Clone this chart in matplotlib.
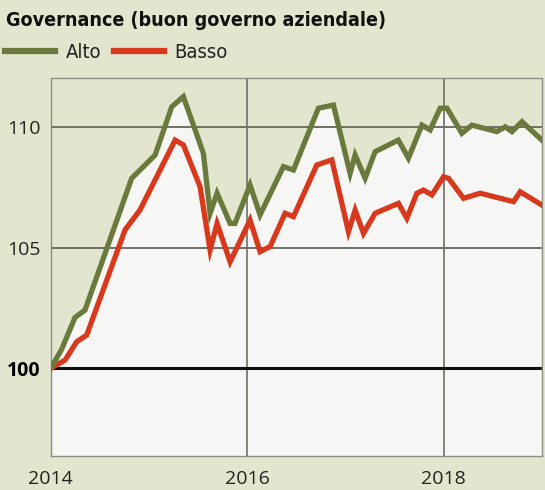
import matplotlib
matplotlib.use("Agg")
import matplotlib.pyplot as plt
from matplotlib.lines import Line2D
from matplotlib import font_manager as fm

# ---- data ----
alto_x = [2014.000, 2014.112, 2014.248, 2014.349, 2014.825, 2014.994, 2015.063, 2015.233,
          2015.351, 2015.555, 2015.623, 2015.694, 2015.827, 2015.877, 2016.030, 2016.132,
          2016.370, 2016.472, 2016.726, 2016.879, 2017.049, 2017.100, 2017.202, 2017.304,
          2017.540, 2017.643, 2017.780, 2017.864, 2017.966, 2018.035, 2018.187, 2018.289,
          2018.544, 2018.628, 2018.697, 2018.799, 2019.002]
alto_y = [100.0, 100.79, 102.11, 102.41, 107.87, 108.55, 108.83, 110.83,
          111.25, 108.90, 106.42, 107.25, 106.00, 106.00, 107.59, 106.35,
          108.35, 108.21, 110.77, 110.90, 108.07, 108.83, 107.87, 108.97,
          109.45, 108.70, 110.07, 109.87, 110.77, 110.77, 109.73, 110.07,
          109.80, 110.00, 109.80, 110.21, 109.45]

basso_x = [2014.000, 2014.146, 2014.265, 2014.367, 2014.757, 2014.910, 2015.267, 2015.351,
           2015.521, 2015.623, 2015.694, 2015.827, 2016.030, 2016.132, 2016.234, 2016.387,
           2016.472, 2016.710, 2016.863, 2017.032, 2017.100, 2017.185, 2017.304, 2017.541,
           2017.627, 2017.729, 2017.796, 2017.882, 2018.000, 2018.051, 2018.204, 2018.374,
           2018.713, 2018.781, 2019.002]
basso_y = [100.0, 100.34, 101.10, 101.38, 105.73, 106.56, 109.45, 109.25,
           107.52, 104.90, 106.00, 104.41, 106.14, 104.83, 105.04, 106.42,
           106.28, 108.42, 108.63, 105.66, 106.55, 105.59, 106.42, 106.83,
           106.21, 107.25, 107.38, 107.18, 107.93, 107.87, 107.04, 107.25,
           106.90, 107.31, 106.76]

x_ticks = [2014, 2016, 2018]
x_labels = ["2014", "2016", "2018"]
y_ticks = [100, 105, 110]
y_labels = ["100", "105", "110"]

title = "Governance (buon governo aziendale)"
series_names = ["Alto", "Basso"]

# ---- fonts: prefer a condensed face if one is installed ----
def pick_font(bold, size):
    want_w = 700 if bold else 400
    best = None
    for f in fm.fontManager.ttflist:
        st = f.stretch
        name = f.name.lower()
        cond = (("condensed" in str(st)) or ("narrow" in name) or ("condensed" in name)
                or (isinstance(st, int) and st < 500))
        if not cond:
            continue
        if "mono" in name or "serif" in name.replace("sans", "") or f.style != "normal":
            continue
        w = f.weight if isinstance(f.weight, int) else (700 if "bold" in str(f.weight) else 400)
        score = abs(w - want_w)
        if best is None or score < best[0]:
            best = (score, f.fname)
    if best is not None and best[0] <= 200:
        return fm.FontProperties(fname=best[1], size=size)
    return fm.FontProperties(family=["Roboto", "DejaVu Sans"],
                             weight="bold" if bold else "light", size=size)

# ---- style ----
BG = "#e3e6cf"
PLOT_BG = "#f6f6f5"
GREEN = "#6a7a3c"
RED = "#d8391c"
GRID = "#6f6f66"
tickfont = ["Open Sans", "DejaVu Sans"]

fig = plt.figure(figsize=(5.45, 4.90), dpi=100, facecolor=BG)
ax = fig.add_axes([50.7 / 545, 1 - 456 / 490, (541.7 - 50.7) / 545, (456 - 78.5) / 490])
ax.set_facecolor(PLOT_BG)

ymin, ymax = 96.37, 112.0
ax.set_xlim(2014, 2019.0)
ax.set_ylim(ymin, ymax)

ax.fill_between(alto_x, alto_y, ymax, color=BG, lw=0, zorder=1)

for yv in [105, 110]:
    ax.axhline(yv, color=GRID, lw=1.4, zorder=2)
for xv in [2016, 2018]:
    ax.axvline(xv, color=GRID, lw=1.2, zorder=2)
ax.axhline(100, color="#111111", lw=2.2, zorder=2)

ax.plot(alto_x, alto_y, color=GREEN, lw=3.8, solid_joinstyle="miter", zorder=4)
ax.plot(basso_x, basso_y, color=RED, lw=3.8, solid_joinstyle="miter", zorder=3)

for s in ax.spines.values():
    s.set_color("#8d8d85")
    s.set_linewidth(1.0)

ax.set_xticks(x_ticks)
ax.set_xticklabels(x_labels, family=tickfont, fontsize=14, color="#222222")
ax.set_yticks(y_ticks)
ax.set_yticklabels(y_labels, family=tickfont, fontsize=14, color="#222222")
ax.get_yticklabels()[0].set_fontweight("bold")
ax.get_yticklabels()[0].set_color("#000000")
ax.tick_params(axis="both", length=0)
ax.tick_params(axis="x", pad=10)
ax.tick_params(axis="y", pad=7)

title_fp = pick_font(True, 16.5)
fig.canvas.draw()
t = fig.text(6 / 545, 1 - 20 / 490, title, fontproperties=title_fp,
             color="#111111", va="center", ha="left")
r = fig.canvas.get_renderer()
w = t.get_window_extent(r).width
if w > 0:
    t.set_fontsize(16.5 * min(1.0, 380.0 / w))

leg_fp = pick_font(False, 14.5)
handles = [Line2D([], [], color=GREEN, lw=4.5), Line2D([], [], color=RED, lw=4.5)]
leg = fig.legend(handles, series_names, loc="center left",
                 bbox_to_anchor=(5 / 545, 1 - 53 / 490), ncol=2, frameon=False,
                 borderpad=0, borderaxespad=0,
                 handlelength=2.5, handletextpad=0.5, columnspacing=0.65,
                 prop=leg_fp)
for tx in leg.get_texts():
    tx.set_color("#222222")

fig.savefig("out.png", dpi=100, facecolor=BG)
